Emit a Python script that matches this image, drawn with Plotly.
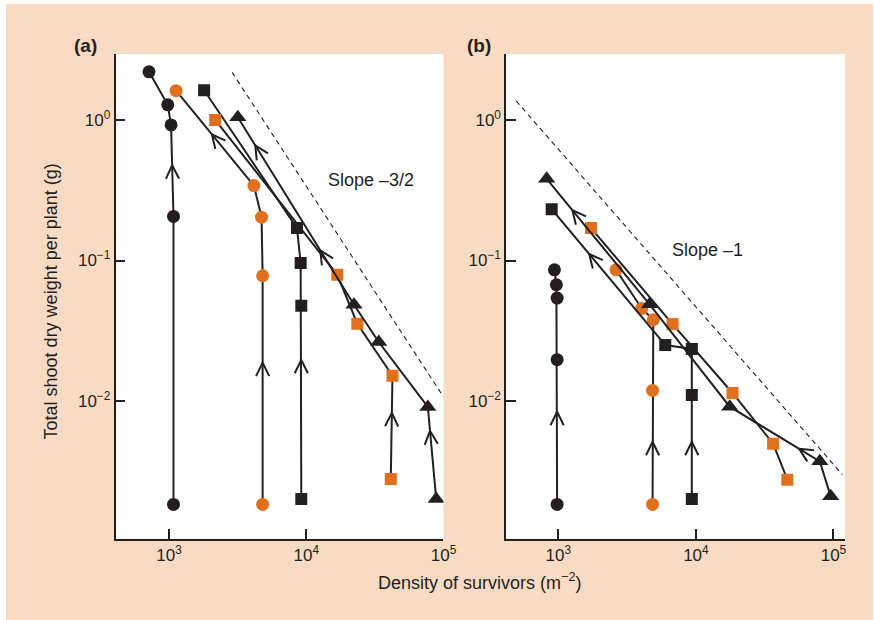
import math
import plotly.graph_objects as go

# ---------------- data: panel (a) ----------------
a_bc_x = [1077, 1077, 1034, 978, 714]
a_bc_y = [0.00184, 0.206, 0.921, 1.28, 2.20]
a_oc_x = [4806, 4806, 4720, 4150, 1125]
a_oc_y = [0.00184, 0.0779, 0.2035, 0.341, 1.616]
a_bs_x = [9195, 9195, 9100, 8550, 1801]
a_bs_y = [0.00201, 0.0477, 0.0958, 0.170, 1.626]
a_os_x = [41300, 42470, 23550, 16830, 2168]
a_os_y = [0.00279, 0.01515, 0.0355, 0.0791, 1.0]
a_bt_x = [88500, 76900, 33730, 22280, 3170]
a_bt_y = [0.00201, 0.00908, 0.0263, 0.0484, 1.045]
a_ref_x = [2880, 100000]
a_ref_y = [2.18, 0.0107]

# ---------------- data: panel (b) ----------------
b_bc_x = [979, 979, 979, 967, 936]
b_bc_y = [0.00184, 0.0197, 0.054, 0.0672, 0.0859]
b_oc_x = [4840, 4840, 4896, 4036, 2624]
b_oc_y = [0.00184, 0.01191, 0.0379, 0.0456, 0.0859]
b_bs_x = [9333, 9333, 9333, 5985, 894]
b_bs_y = [0.00201, 0.01105, 0.0235, 0.02504, 0.2319]
b_os_x = [46200, 36400, 18450, 6761, 1728]
b_os_y = [0.00276, 0.00498, 0.01142, 0.0353, 0.170]
b_bt_x = [95500, 79560, 17600, 4603, 822]
b_bt_y = [0.0021, 0.003727, 0.00912, 0.0488, 0.381]
b_ref_x = [493, 116000]
b_ref_y = [1.365, 0.0030]

x_tickvals = [1e3, 1e4, 1e5]
x_ticktext = ["10<sup>3</sup>", "10<sup>4</sup>", "10<sup>5</sup>"]
y_tickvals = [1e-2, 1e-1, 1e0]
y_ticktext = ["10<sup>\u22122</sup>", "10<sup>\u22121</sup>", "10<sup>0</sup>"]

# arrows: (series, segment index, fraction along segment)
a_arrows = [("bc", 1, 0.56), ("oc", 0, 0.62), ("oc", 3, 0.54), ("bs", 0, 0.72),
            ("os", 0, 0.64), ("bt", 0, 0.74), ("bt", 3, 0.29), ("bt", 3, 0.85)]
b_arrows = [("bc", 0, 0.64), ("oc", 0, 0.55), ("bs", 0, 0.55), ("bs", 3, 0.67),
            ("bt", 1, 0.23), ("bt", 3, 0.75)]

# ---------------- styling / layout ----------------
FIG_W, FIG_H = 874, 620        # reference frame used for all positions
RENDER_W = 886                 # page width that the capture maps onto 874 px
PEACH = "#f9dbc4"
ORANGE = "#e1701e"
INK = "#231f20"
FONT = "Liberation Sans, Arial, Helvetica, sans-serif"

PANELS = {
    "a": dict(px=(115.7, 444.0), xr=(2.61, 5.0), xa="x", ya="y"),
    "b": dict(px=(506.7, 846.0), xr=(2.62, 5.084), xa="x2", ya="y2"),
}
PY = (54.0, 538.7)
YR = (-2.979, 0.469)


def to_px(p, x, y):
    x0, x1 = PANELS[p]["px"]
    r0, r1 = PANELS[p]["xr"]
    px = x0 + (math.log10(x) - r0) / (r1 - r0) * (x1 - x0)
    py = PY[0] + (YR[1] - math.log10(y)) / (YR[1] - YR[0]) * (PY[1] - PY[0])
    return px, py


def from_px(p, px, py):
    x0, x1 = PANELS[p]["px"]
    r0, r1 = PANELS[p]["xr"]
    lx = r0 + (px - x0) / (x1 - x0) * (r1 - r0)
    ly = YR[1] - (py - PY[0]) / (PY[1] - PY[0]) * (YR[1] - YR[0])
    return 10 ** lx, 10 ** ly


def chevrons(p, series, arrows, L=15.0, ang=26.0):
    xs_out, ys_out = [], []
    for key, seg, t in arrows:
        xs, ys = series[key][0], series[key][1]
        ax, ay = to_px(p, xs[seg], ys[seg])
        bx, by = to_px(p, xs[seg + 1], ys[seg + 1])
        cx, cy = ax + t * (bx - ax), ay + t * (by - ay)
        dx, dy = bx - ax, by - ay
        n = math.hypot(dx, dy)
        ux, uy = -dx / n, -dy / n
        wings = []
        for s in (1, -1):
            th = math.radians(ang) * s
            wx = ux * math.cos(th) - uy * math.sin(th)
            wy = ux * math.sin(th) + uy * math.cos(th)
            wings.append(from_px(p, cx + L * wx, cy + L * wy))
        apex = from_px(p, cx, cy)
        for pt in (wings[0], apex, wings[1]):
            xs_out.append(pt[0])
            ys_out.append(pt[1])
        xs_out.append(None)
        ys_out.append(None)
    return xs_out, ys_out


a_series = {"bc": (a_bc_x, a_bc_y, "circle", INK, 13),
            "oc": (a_oc_x, a_oc_y, "circle", ORANGE, 13),
            "bs": (a_bs_x, a_bs_y, "square", INK, 12),
            "os": (a_os_x, a_os_y, "square", ORANGE, 12),
            "bt": (a_bt_x, a_bt_y, "triangle-up", INK, 15)}
b_series = {"bc": (b_bc_x, b_bc_y, "circle", INK, 13),
            "oc": (b_oc_x, b_oc_y, "circle", ORANGE, 13),
            "bs": (b_bs_x, b_bs_y, "square", INK, 12),
            "os": (b_os_x, b_os_y, "square", ORANGE, 12),
            "bt": (b_bt_x, b_bt_y, "triangle-up", INK, 15)}

fig = go.Figure()

for p, series, arrows, ref in (("a", a_series, a_arrows, (a_ref_x, a_ref_y)),
                               ("b", b_series, b_arrows, (b_ref_x, b_ref_y))):
    xa, ya = PANELS[p]["xa"], PANELS[p]["ya"]
    fig.add_trace(go.Scatter(x=ref[0], y=ref[1], mode="lines",
                             line=dict(color=INK, width=1.1, dash="5px,4px"),
                             xaxis=xa, yaxis=ya, showlegend=False, hoverinfo="skip"))
    cx, cy = chevrons(p, series, arrows)
    fig.add_trace(go.Scatter(x=cx, y=cy, mode="lines",
                             line=dict(color=INK, width=2),
                             xaxis=xa, yaxis=ya, showlegend=False, hoverinfo="skip"))
    for key, (xs, ys, sym, col, sz) in series.items():
        fig.add_trace(go.Scatter(x=xs, y=ys, mode="lines+markers",
                                 line=dict(color=INK, width=2),
                                 marker=dict(symbol=sym, color=col, size=sz,
                                             line=dict(width=0)),
                                 xaxis=xa, yaxis=ya, showlegend=False))

axis_common = dict(type="log", showline=True, linecolor=INK, linewidth=1.5,
                   ticks="inside", ticklen=10, tickwidth=1.5, tickcolor=INK,
                   showgrid=False, zeroline=False,
                   tickfont=dict(family=FONT, size=17, color=INK))

ydom = [1 - PY[1] / FIG_H, 1 - PY[0] / FIG_H]
layout_axes = {}
for p, (xk, yk) in (("a", ("xaxis", "yaxis")), ("b", ("xaxis2", "yaxis2"))):
    x0, x1 = PANELS[p]["px"]
    xa, ya = PANELS[p]["xa"], PANELS[p]["ya"]
    layout_axes[xk] = dict(axis_common, range=list(PANELS[p]["xr"]),
                           domain=[x0 / FIG_W, x1 / FIG_W], anchor=ya,
                           tickmode="array", tickvals=x_tickvals, ticktext=x_ticktext)
    layout_axes[yk] = dict(axis_common, range=list(YR), domain=ydom, anchor=xa,
                           tickmode="array", tickvals=y_tickvals, ticktext=y_ticktext)

shapes = [dict(type="rect", xref="paper", yref="paper", x0=6 / FIG_W, x1=1,
               y0=0, y1=1 - 4 / FIG_H, fillcolor=PEACH, line=dict(width=0), layer="below")]
for p in ("a", "b"):
    x0, x1 = PANELS[p]["px"]
    shapes.append(dict(type="rect", xref="paper", yref="paper",
                       x0=x0 / FIG_W, x1=x1 / FIG_W, y0=ydom[0], y1=ydom[1],
                       fillcolor="white", line=dict(width=0), layer="below"))

def ann(text, x, y, size, xanchor="center", bold=False, angle=0):
    return dict(text=(f"<b>{text}</b>" if bold else text), x=x / FIG_W, y=1 - y / FIG_H,
                xref="paper", yref="paper", showarrow=False, xanchor=xanchor,
                yanchor="middle", textangle=angle,
                font=dict(family=FONT, size=size, color=INK))

annotations = [
    ann("(a)", 86, 45, 19, bold=True),
    ann("(b)", 480, 45, 19, bold=True),
    ann("Slope \u20133/2", 326, 180, 18, xanchor="left"),
    ann("Slope \u20131", 671, 250, 18, xanchor="left"),
    ann("Total shoot dry weight per plant (g)", 51.5, 301, 18, angle=-90),
    ann("Density of survivors (m<sup>\u22122</sup>)", 480.5, 581, 18),
]

fig.update_layout(width=RENDER_W, height=FIG_H, margin=dict(l=0, r=0, t=0, b=0),
                  autosize=False,
                  paper_bgcolor="white", plot_bgcolor="white",
                  shapes=shapes, annotations=annotations, showlegend=False,
                  font=dict(family=FONT, color=INK), **layout_axes)

PAGE_FIX = (
    "var s=document.createElement('style');"
    "s.innerHTML='html,body{margin:0!important;padding:0!important;}';"
    "document.head.appendChild(s);"
)

fig.write_html("out.html", config={"displayModeBar": False, "responsive": False},
               post_script=PAGE_FIX)
